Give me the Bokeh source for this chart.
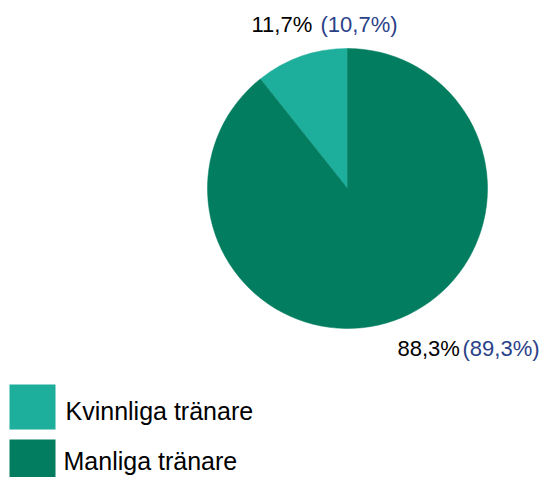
from bokeh.plotting import figure
from bokeh.models import Range1d, ColumnDataSource
from bokeh.core.properties import value
from bokeh.embed import file_html
from bokeh.resources import INLINE
import math

# Data
categories = ["Kvinnliga tränare", "Manliga tränare"]
shares = [10.7, 89.3]            # slice sizes as drawn (%)
labels_now = ["11,7%", "88,3%"]
labels_prev = ["(10,7%)", "(89,3%)"]
colors = ["#1EAE9C", "#037D5F"]

W, H = 541, 477
# data coordinates: x = screen px, y = 477 - screen py
p = figure(width=W, height=H, x_range=Range1d(0, W), y_range=Range1d(0, H),
           output_backend="svg", toolbar_location=None, min_border=0)
p.axis.visible = False
p.grid.visible = False
p.outline_line_color = None
p.background_fill_color = "white"
p.border_fill_color = "white"

cx, cy, r = 347, 477 - 188, 140
total = sum(shares)
starts, ends = [], []
a = math.pi / 2
for s in shares:
    starts.append(a)
    a += 2 * math.pi * s / total
    ends.append(a)
src = ColumnDataSource(dict(start=starts, end=ends, color=colors))
p.wedge(x=cx, y=cy, radius=r, start_angle="start", end_angle="end",
        fill_color="color", line_color="color", line_width=0.5, source=src)

font = value("Liberation Sans")
# slice labels
p.text(x=[251, 397], y=[477 - 24, 477 - 348], text=labels_now, text_font=font,
       text_font_size="22px", text_color="black", text_baseline="alphabetic")
p.text(x=[320, 462], y=[477 - 24, 477 - 348], text=labels_prev, text_font=font,
       text_font_size="22px", text_color="#2B4289", text_baseline="alphabetic")

# legend
p.quad(left=[9, 9], right=[55, 55], top=[477 - 384, 477 - 439], bottom=[477 - 429, 477 - 480],
       fill_color=colors, line_color=None)
p.text(x=[65, 63], y=[477 - 410, 477 - 460], text=categories, text_font=font,
       text_font_size="25px", text_color="black", text_baseline="alphabetic")

open("out.html", "w").write(file_html(p, INLINE))
